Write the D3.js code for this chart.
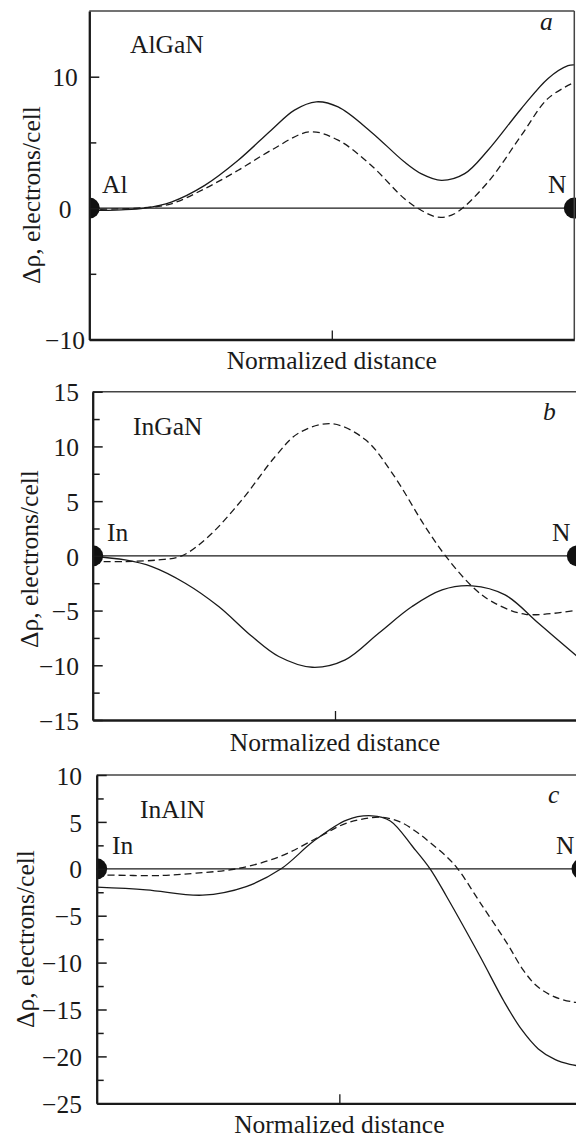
<!DOCTYPE html>
<html>
<head>
<meta charset="utf-8">
<script src="https://cdn.jsdelivr.net/npm/d3@7"></script>
<style>
  body { margin: 0; background: #fff; }
  text { font-family: "Liberation Serif", "Times New Roman", serif; fill: #1a1a1a; }
</style>
</head>
<body>
<div id="chart"></div>
<script>
// values: [normalized distance, delta rho]
const aSolid = [[0,-0.18],[0.066,-0.13],[0.114,0],[0.169,0.46],[0.238,1.73],[0.307,3.64],[0.375,5.93],[0.423,7.46],[0.468,8.09],[0.513,7.7],[0.581,5.8],[0.65,3.5],[0.685,2.6],[0.726,2.11],[0.774,2.62],[0.822,4.4],[0.891,7.58],[0.946,9.87],[0.987,10.84],[1,10.9]];
const aDashed = [[0,-0.1],[0.114,0.03],[0.169,0.33],[0.238,1.48],[0.307,2.88],[0.375,4.4],[0.454,5.8],[0.513,5.17],[0.581,3.26],[0.65,0.71],[0.685,-0.18],[0.719,-0.69],[0.753,-0.43],[0.822,1.98],[0.891,5.55],[0.946,8.35],[1,9.57]];
const bSolid = [[0,-0.06],[0.067,-0.37],[0.122,-0.98],[0.191,-2.5],[0.26,-4.63],[0.329,-7.38],[0.384,-9.2],[0.453,-10.18],[0.521,-9.5],[0.59,-7.07],[0.659,-4.63],[0.721,-3.11],[0.783,-2.74],[0.851,-3.57],[0.92,-6.16],[1,-9.2]];
const bDashed = [[0,-0.52],[0.067,-0.52],[0.136,-0.37],[0.184,0],[0.239,1.77],[0.308,5.12],[0.377,9.09],[0.425,11.22],[0.494,12.07],[0.563,10.6],[0.618,7.56],[0.686,2.68],[0.728,0],[0.783,-2.8],[0.824,-4.18],[0.893,-5.34],[1,-4.95]];
const cSolid = [[0,-1.96],[0.102,-2.24],[0.218,-2.81],[0.308,-1.89],[0.38,0],[0.446,2.9],[0.515,5.2],[0.567,5.65],[0.605,5.1],[0.652,2.3],[0.687,0],[0.721,-2.95],[0.79,-9.35],[0.84,-14.2],[0.875,-17.1],[0.91,-19.2],[0.945,-20.35],[0.975,-20.85],[1,-21.05]];
const cDashed = [[0,-0.64],[0.136,-0.71],[0.205,-0.46],[0.288,0],[0.378,1.31],[0.46,3.45],[0.515,4.87],[0.584,5.5],[0.625,5.0],[0.66,3.9],[0.687,2.8],[0.721,1.3],[0.744,0],[0.79,-3.6],[0.845,-7.9],[0.879,-10.8],[0.907,-12.5],[0.941,-13.6],[0.981,-14.2],[1,-14.3]];

const compounds = ["AlGaN", "InGaN", "InAlN"];
const panelLetters = ["a", "b", "c"];
const leftAtoms = ["Al", "In", "In"];
const rightAtoms = ["N", "N", "N"];
const yDomains = [[-10, 15], [-15, 15], [-25, 10]];
const yMajor = [[-10, 0, 10], [-15, -10, -5, 0, 5, 10, 15], [-25, -20, -15, -10, -5, 0, 5, 10]];
const yMinor = [[-5, 5], [-12.5, -7.5, -2.5, 2.5, 7.5, 12.5], [-22.5, -17.5, -12.5, -7.5, -2.5, 2.5, 7.5]];
const xTicks = [0.5];
const xTitle = "Normalized distance";
const yTitle = "Δρ, electrons/cell";

const solids = [aSolid, bSolid, cSolid];
const dashes = [aDashed, bDashed, cDashed];

const width = 576;
const height = 1138;
const fs = 25.5;
const serif = '"Liberation Serif", "Times New Roman", serif';

// pixel layout of each panel
const layout = [
  {left: 89.3, right: 574.3, top: 11, bottom: 339.5, labelX: 65, labelAnchor: 'middle', xTitleY: 369, yTitleX: 32, yTitleY: 195,
   nameX: 130, nameY: 53, letterX: 540, letterY: 30, atomY: 193, atomLX: 102, atomRX: 548},
  {left: 92.7, right: 577.3, top: 391.7, bottom: 720, labelX: 79, labelAnchor: 'end', xTitleY: 750.5, yTitleX: 30, yTitleY: 559,
   nameX: 133, nameY: 435, letterX: 543, letterY: 420, atomY: 540.5, atomLX: 107, atomRX: 552},
  {left: 96.7, right: 582, top: 775, bottom: 1103.3, labelX: 82, labelAnchor: 'end', xTitleY: 1133, yTitleX: 26, yTitleY: 939,
   nameX: 140, nameY: 818, letterX: 548, letterY: 803, atomY: 854, atomLX: 112, atomRX: 556}
];

const svg = d3.select('#chart')
  .append('svg')
  .attr('width', width)
  .attr('height', height);

svg.append('rect')
  .attr('width', width)
  .attr('height', height)
  .attr('fill', '#fff');

function addText(g, str, x, y) {
  return g.append('text')
    .text(str)
    .attr('x', x)
    .attr('y', y)
    .style('font-family', serif)
    .style('font-size', fs + 'px')
    .attr('fill', '#1a1a1a');
}

layout.forEach((p, i) => {
  const x = d3.scaleLinear().domain([0, 1]).range([p.left, p.right]);
  const y = d3.scaleLinear().domain(yDomains[i]).range([p.bottom, p.top]);

  svg.append('clipPath')
    .attr('id', 'clip' + i)
    .append('rect')
    .attr('x', p.left)
    .attr('y', p.top)
    .attr('width', width + 20 - p.left)
    .attr('height', p.bottom - p.top);

  const g = svg.append('g');
  const plot = g.append('g').attr('clip-path', `url(#clip${i})`);

  const line = d3.line()
    .x(d => x(d[0]))
    .y(d => y(d[1]))
    .curve(d3.curveCatmullRom.alpha(0.5));

  // zero line
  plot.append('line')
    .attr('x1', p.left).attr('x2', p.right)
    .attr('y1', y(0)).attr('y2', y(0))
    .attr('stroke', '#1a1a1a')
    .attr('stroke-width', 1.3);

  plot.append('path')
    .datum(dashes[i])
    .attr('d', line)
    .attr('fill', 'none')
    .attr('stroke', '#1a1a1a')
    .attr('stroke-width', 1.3)
    .attr('stroke-dasharray', '7,4');

  plot.append('path')
    .datum(solids[i])
    .attr('d', line)
    .attr('fill', 'none')
    .attr('stroke', '#1a1a1a')
    .attr('stroke-width', 1.3);

  plot.selectAll('circle')
    .data([0, 1])
    .enter()
    .append('circle')
    .attr('cx', d => x(d))
    .attr('cy', y(0))
    .attr('r', 10.5)
    .attr('fill', '#111');

  // thin top and right frame lines
  g.append('line')
    .attr('x1', p.left).attr('x2', p.right)
    .attr('y1', p.top).attr('y2', p.top)
    .attr('stroke', '#444').attr('stroke-width', 1.5);
  g.append('line')
    .attr('x1', p.right).attr('x2', p.right)
    .attr('y1', p.top).attr('y2', p.bottom)
    .attr('stroke', '#444').attr('stroke-width', 1.5);

  // left axis, ticks pointing inward
  const yAxis = g.append('g')
    .attr('transform', `translate(${p.left},0)`)
    .call(d3.axisLeft(y).tickValues(yMajor[i]).tickSize(-10).tickSizeOuter(0).tickPadding(0));
  yAxis.attr('font-family', null).attr('font-size', null);
  yAxis.select('.domain').attr('stroke', '#1a1a1a').attr('stroke-width', 2.3);
  yAxis.selectAll('.tick line').attr('stroke', '#1a1a1a').attr('stroke-width', 1.5);
  yAxis.selectAll('.tick text')
    .attr('x', p.labelX - p.left)
    .attr('dy', '0.36em')
    .attr('text-anchor', p.labelAnchor)
    .style('font-size', fs + 'px')
    .style('font-family', serif)
    .attr('fill', '#1a1a1a');

  const yMinorAxis = g.append('g')
    .attr('transform', `translate(${p.left},0)`)
    .call(d3.axisLeft(y).tickValues(yMinor[i]).tickSize(-7).tickSizeOuter(0).tickFormat(''));
  yMinorAxis.select('.domain').remove();
  yMinorAxis.selectAll('.tick line').attr('stroke', '#1a1a1a').attr('stroke-width', 1.5);

  const xAxis = g.append('g')
    .attr('transform', `translate(0,${p.bottom})`)
    .call(d3.axisBottom(x).tickValues(xTicks).tickSize(-9).tickSizeOuter(0).tickFormat(''));
  xAxis.select('.domain').attr('stroke', '#1a1a1a').attr('stroke-width', 2.3);
  xAxis.selectAll('.tick line').attr('stroke', '#1a1a1a').attr('stroke-width', 1.3);

  // titles
  addText(g, xTitle, x(0.5), p.xTitleY).attr('text-anchor', 'middle');

  addText(g, yTitle, 0, 0)
    .attr('transform', `translate(${p.yTitleX},${p.yTitleY}) rotate(-90)`)
    .attr('text-anchor', 'middle')
    .attr('dy', '0.32em');

  addText(g, compounds[i], p.nameX, p.nameY);
  addText(g, panelLetters[i], p.letterX, p.letterY).style('font-style', 'italic');
  addText(g, leftAtoms[i], p.atomLX, p.atomY);
  addText(g, rightAtoms[i], p.atomRX, p.atomY);
});
</script>
</body>
</html>
